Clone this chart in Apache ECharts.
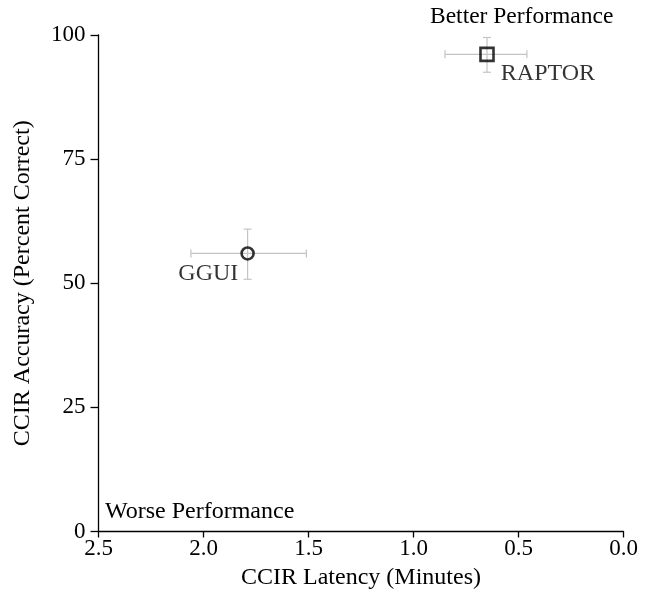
<!DOCTYPE html>
<html>
<head>
<meta charset="utf-8">
<script src="https://cdn.jsdelivr.net/npm/echarts@6/dist/echarts.min.js"></script>
<style>html,body{margin:0;padding:0;background:#fff}#c{width:645px;height:589px}</style>
</head>
<body>
<div id="c"></div>
<script>
const systems = ['RAPTOR', 'GGUI'];
const latency = [0.65, 1.79];
const latencyLow = [0.46, 1.51];
const latencyHigh = [0.85, 2.06];
const accuracy = [96.1, 56.0];
const accuracyLow = [92.5, 50.8];
const accuracyHigh = [99.5, 60.9];
const symbols = ['rect', 'circle'];
const xTicks = [0, 0.5, 1.0, 1.5, 2.0, 2.5];
const yTicks = [0, 25, 50, 75, 100];

const FONT = 'Liberation Serif';
const chart = echarts.init(document.getElementById('c'));

const errData = systems.map((s, i) => [latency[i], accuracy[i], latencyLow[i], latencyHigh[i], accuracyLow[i], accuracyHigh[i]]);

function renderErr(params, api) {
  const x = api.value(0), y = api.value(1);
  const pL = api.coord([api.value(2), y]);
  const pH = api.coord([api.value(3), y]);
  const pB = api.coord([x, api.value(4)]);
  const pT = api.coord([x, api.value(5)]);
  const cap = 4;
  const st = { stroke: '#c4c4c4', lineWidth: 1.2 };
  return {
    type: 'group',
    children: [
      { type: 'line', shape: { x1: pL[0], y1: pL[1], x2: pH[0], y2: pH[1] }, style: st },
      { type: 'line', shape: { x1: pL[0], y1: pL[1] - cap, x2: pL[0], y2: pL[1] + cap }, style: st },
      { type: 'line', shape: { x1: pH[0], y1: pH[1] - cap, x2: pH[0], y2: pH[1] + cap }, style: st },
      { type: 'line', shape: { x1: pB[0], y1: pB[1], x2: pT[0], y2: pT[1] }, style: st },
      { type: 'line', shape: { x1: pB[0] - cap, y1: pB[1], x2: pB[0] + cap, y2: pB[1] }, style: st },
      { type: 'line', shape: { x1: pT[0] - cap, y1: pT[1], x2: pT[0] + cap, y2: pT[1] }, style: st }
    ]
  };
}

const labelPos = [
  { position: 'right', offset: [1, 19] },
  { position: 'left', offset: [3, 20] }
];

chart.setOption({
  animation: false,
  backgroundColor: '#fff',
  textStyle: { fontFamily: FONT },
  grid: { left: 98.5, right: 21.5, top: 35, bottom: 57.5, containLabel: false, outerBoundsMode: 'none' },
  xAxis: {
    type: 'value', inverse: true, min: 0, max: 2.5, interval: 0.5,
    name: 'CCIR Latency (Minutes)', nameLocation: 'middle', nameGap: 32,
    nameTextStyle: { fontFamily: FONT, fontSize: 24, color: '#000' },
    axisLine: { show: true, onZero: false, lineStyle: { color: '#000', width: 1.3 } },
    axisTick: { show: true, length: 6, lineStyle: { color: '#000', width: 1.3 } },
    axisLabel: { fontFamily: FONT, fontSize: 23, color: '#000', margin: 6, formatter: v => v.toFixed(1) },
    splitLine: { show: false }
  },
  yAxis: {
    type: 'value', min: 0, max: 100, interval: 25,
    name: 'CCIR Accuracy (Percent Correct)', nameLocation: 'middle', nameGap: 64, nameRotate: 90,
    nameTextStyle: { fontFamily: FONT, fontSize: 24, color: '#000' },
    axisLine: { show: true, onZero: false, lineStyle: { color: '#000', width: 1.3 } },
    axisTick: { show: true, length: 8, lineStyle: { color: '#000', width: 1.3 } },
    axisLabel: { fontFamily: FONT, fontSize: 23, color: '#000', margin: 13 },
    splitLine: { show: false }
  },
  graphic: [
    { type: 'text', left: 430, top: 5, style: { text: 'Better Performance', font: '23.5px "Liberation Serif"', fill: '#000' } },
    { type: 'text', left: 105, top: 500, style: { text: 'Worse Performance', font: '24px "Liberation Serif"', fill: '#000' } }
  ],
  series: [
    {
      type: 'custom', renderItem: renderErr, data: errData, z: 1,
      encode: { x: 0, y: 1 }
    },
    {
      type: 'scatter', z: 3,
      data: systems.map((s, i) => ({
        value: [latency[i], accuracy[i]],
        name: s,
        symbol: symbols[i],
        symbolSize: symbols[i] === 'rect' ? 13 : 12,
        label: {
          show: true, formatter: s, position: labelPos[i].position, offset: labelPos[i].offset,
          fontFamily: FONT, fontSize: 24, color: '#000'
        }
      })),
      itemStyle: { color: 'rgba(255,255,255,0)', borderColor: '#000', borderWidth: 2.6 }
    }
  ]
});
</script>
</body>
</html>
